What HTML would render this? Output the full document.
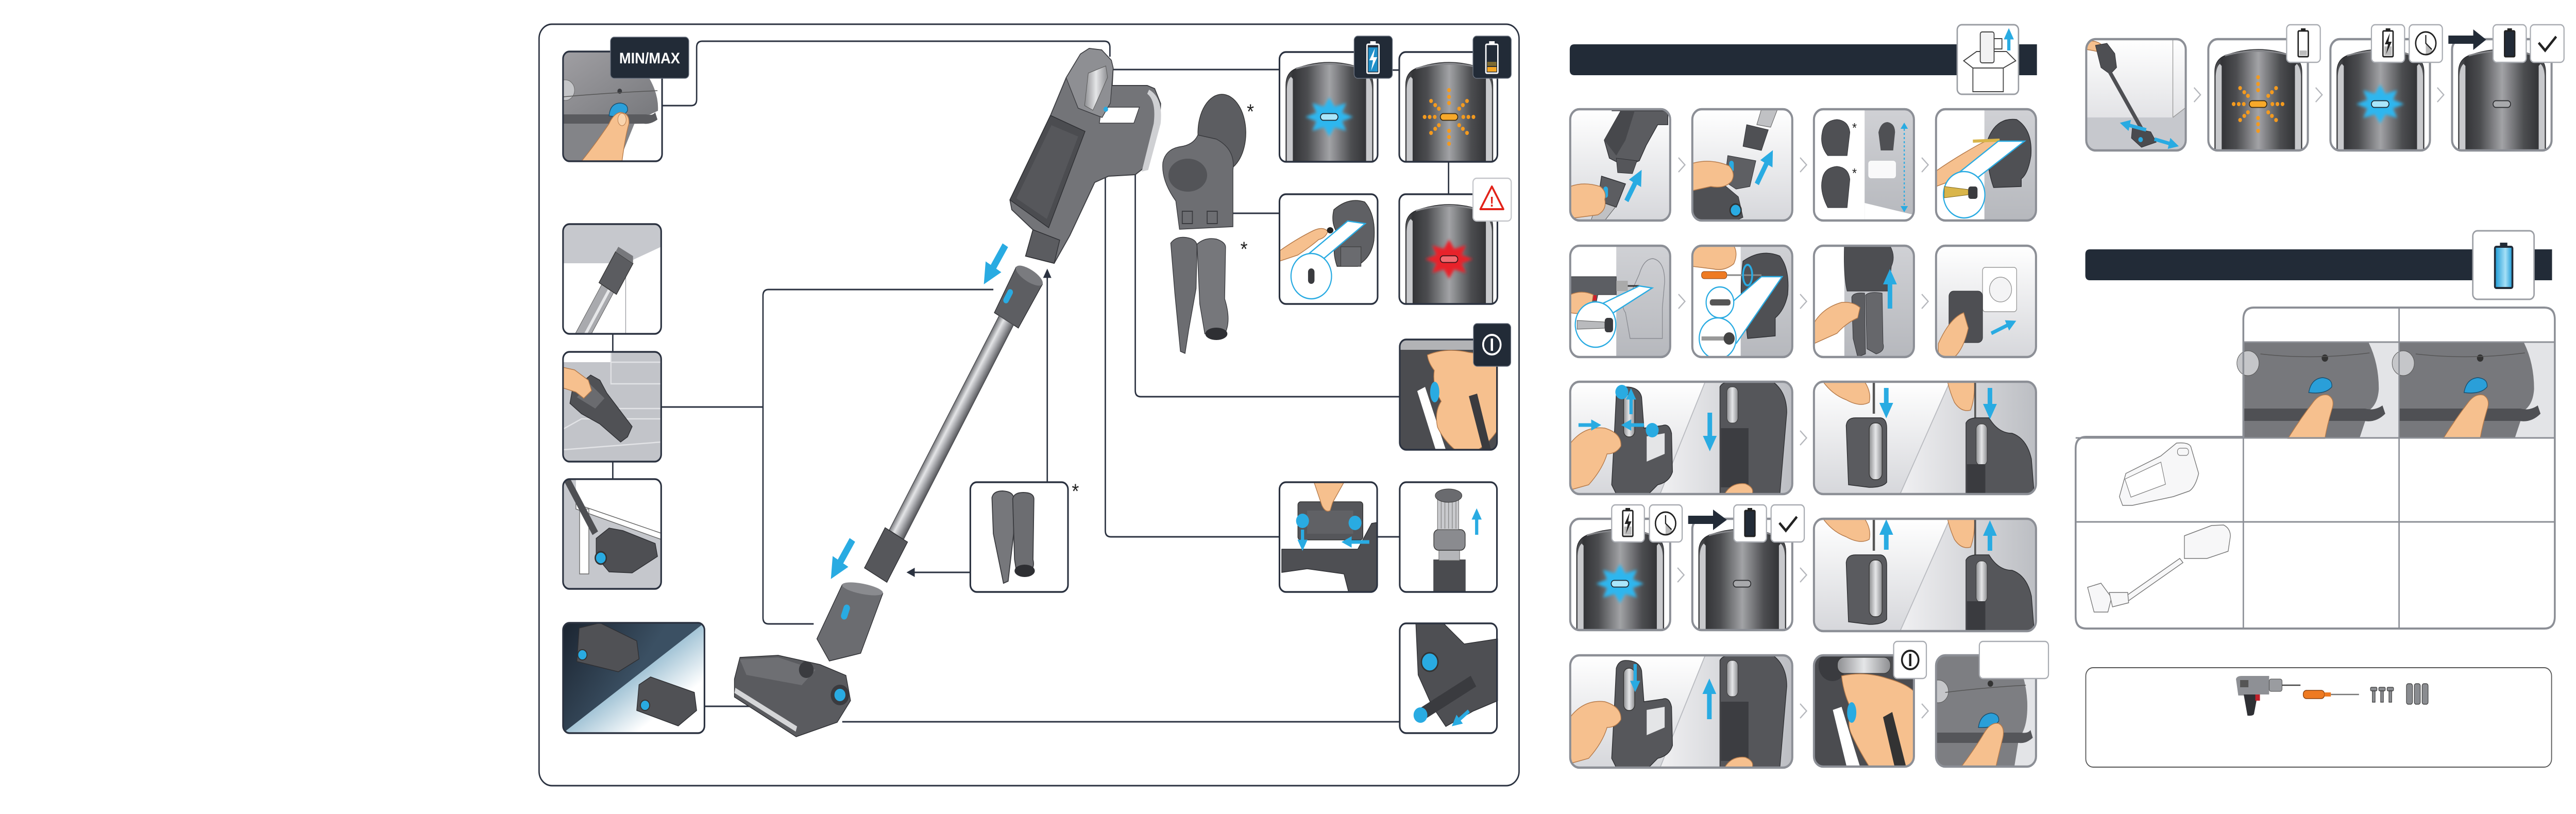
<!DOCTYPE html>
<html><head><meta charset="utf-8">
<style>
html,body{margin:0;padding:0;background:#fff;width:100%;height:100%;overflow:hidden;}
svg{display:block;width:100vw;height:100vh;}
.bd{fill:none;stroke:#2b3240;stroke-width:3.5}
.bg{fill:none;stroke:#8c8f96;stroke-width:4.5}
.cn{fill:none;stroke:#2b3240;stroke-width:3}
.sk{fill:#f6c08e;stroke:#b57a4a;stroke-width:1.5}
.ch{fill:none;stroke:#b5b7bc;stroke-width:2.5}
.ib{fill:#fff;stroke:#a9acb2;stroke-width:2.5}
.nb{fill:#222b37;stroke:#6b7380;stroke-width:1.5}
.ba{stroke:#29abe2;stroke-width:10;fill:none}
.bs{stroke:#29abe2;stroke-width:7;fill:none}
</style></head><body>
<svg viewBox="0 0 5591 1580" preserveAspectRatio="none" xmlns="http://www.w3.org/2000/svg" xmlns:xlink="http://www.w3.org/1999/xlink">
<defs>
<linearGradient id="pbg" x1="0" y1="0" x2="0" y2="1"><stop offset="0" stop-color="#ffffff"/><stop offset="1" stop-color="#d6d7db"/></linearGradient>
<linearGradient id="wall" x1="0" y1="0" x2="0" y2="1"><stop offset="0" stop-color="#d0d1d5"/><stop offset="1" stop-color="#b6b8bd"/></linearGradient>
<linearGradient id="rgt" x1="0" y1="0" x2="1" y2="0"><stop offset="0" stop-color="#f0f0f2"/><stop offset="1" stop-color="#bcbec3"/></linearGradient>
<linearGradient id="gb" x1="0" y1="0" x2="1" y2="0"><stop offset="0" stop-color="#58595c"/><stop offset="0.08" stop-color="#333437"/><stop offset="0.25" stop-color="#4c4d50"/><stop offset="0.5" stop-color="#a2a3a6"/><stop offset="0.75" stop-color="#4c4d50"/><stop offset="0.92" stop-color="#333437"/><stop offset="1" stop-color="#58595c"/></linearGradient>
<linearGradient id="metal" gradientUnits="userSpaceOnUse" x1="2168.6" y1="612.8" x2="2199.8" y2="630.8"><stop offset="0" stop-color="#6f7074"/><stop offset="0.35" stop-color="#e4e5e7"/><stop offset="0.6" stop-color="#b0b1b5"/><stop offset="1" stop-color="#5a5b5f"/></linearGradient>
<linearGradient id="dev" x1="0" y1="0" x2="1" y2="1"><stop offset="0" stop-color="#a09fa3"/><stop offset="1" stop-color="#77787c"/></linearGradient>
<linearGradient id="silv" x1="0" y1="0" x2="1" y2="0"><stop offset="0" stop-color="#8d8e91"/><stop offset="0.5" stop-color="#e5e6e8"/><stop offset="1" stop-color="#8d8e91"/></linearGradient>
<linearGradient id="night" gradientUnits="userSpaceOnUse" x1="0" y1="0" x2="153" y2="107"><stop offset="0" stop-color="#1b2430"/><stop offset="1" stop-color="#3b5063"/></linearGradient>
<linearGradient id="beam" gradientUnits="userSpaceOnUse" x1="153" y1="107" x2="205" y2="182"><stop offset="0" stop-color="#a3c4d6"/><stop offset="1" stop-color="#ffffff"/></linearGradient>
<linearGradient id="bfill" x1="0" y1="0" x2="1" y2="0"><stop offset="0" stop-color="#1b9ad6"/><stop offset="0.6" stop-color="#a6e0f7"/><stop offset="1" stop-color="#1b9ad6"/></linearGradient>
<filter id="blur" x="-40%" y="-40%" width="180%" height="180%"><feGaussianBlur stdDeviation="3"/></filter>
<clipPath id="k213"><rect width="213" height="213" rx="14"/></clipPath>
<clipPath id="k307"><rect width="307" height="214" rx="14"/></clipPath>
<clipPath id="k217"><rect width="217" height="216" rx="20"/></clipPath>
<clipPath id="k482"><rect width="482" height="218" rx="20"/></clipPath>
<marker id="mb" viewBox="0 0 10 10" refX="3" refY="5" markerWidth="30" markerHeight="30" markerUnits="userSpaceOnUse" orient="auto"><path d="M0,0 L10,5 L0,10 z" fill="#29abe2"/></marker>
<marker id="mbl" viewBox="0 0 10 10" refX="3" refY="5" markerWidth="40" markerHeight="40" markerUnits="userSpaceOnUse" orient="auto"><path d="M0,0 L10,5 L0,10 z" fill="#29abe2"/></marker>
<marker id="mbs" viewBox="0 0 10 10" refX="3" refY="5" markerWidth="22" markerHeight="22" markerUnits="userSpaceOnUse" orient="auto"><path d="M0,0 L10,5 L0,10 z" fill="#29abe2"/></marker>
<marker id="md" viewBox="0 0 10 10" refX="3" refY="5" markerWidth="18" markerHeight="18" markerUnits="userSpaceOnUse" orient="auto"><path d="M0,0 L10,5 L0,10 z" fill="#2b3240"/></marker>

<g id="bb">
<rect width="217" height="216" fill="#fff"/>
<path d="M14,216 V64 Q14,40 36,32 Q108,8 181,32 Q203,40 203,64 V216 Z" fill="url(#gb)" stroke="#2a2b2e" stroke-width="1.5"/>
<path d="M16,216 V72 Q17,54 25,48 L29,52 L29,216 Z" fill="#c8c9cc"/>
<path d="M201,216 V72 Q200,54 192,48 L188,52 L188,216 Z" fill="#c8c9cc"/>
<path d="M36,32 Q108,14 181,32" fill="none" stroke="#85868a" stroke-width="3"/>
</g>
<g id="starB">
<polygon points="52,0 27.7,8.4 36.8,26.9 11.5,20.3 0,38 -11.5,20.3 -36.8,26.9 -27.7,8.4 -52,0 -27.7,-8.4 -36.8,-26.9 -11.5,-20.3 0,-38 11.5,-20.3 36.8,-26.9 27.7,-8.4" fill="#2fb6ee" filter="url(#blur)"/>
<rect x="-19" y="-6.5" width="38" height="13" rx="6.5" fill="#a9e6fb" stroke="#1b2631" stroke-width="1.8"/>
</g>
<g id="starR">
<polygon points="52,0 27.7,8.4 36.8,26.9 11.5,20.3 0,38 -11.5,20.3 -36.8,26.9 -27.7,8.4 -52,0 -27.7,-8.4 -36.8,-26.9 -11.5,-20.3 0,-38 11.5,-20.3 36.8,-26.9 27.7,-8.4" fill="#e8202a" filter="url(#blur)"/>
<rect x="-19" y="-6.5" width="38" height="13" rx="6.5" fill="#f26a70" stroke="#3a1014" stroke-width="1.8"/>
</g>
<g id="pillG"><rect x="-19" y="-6.5" width="38" height="13" rx="6.5" fill="#a8a9ac" stroke="#2a2b2e" stroke-width="1.8"/></g>
<g id="burstO" fill="#f39a1f">
<circle cx="31" cy="0" r="4"/><circle cx="42" cy="0" r="4"/><circle cx="53" cy="0" r="4"/>
<circle cx="-31" cy="0" r="4"/><circle cx="-42" cy="0" r="4"/><circle cx="-53" cy="0" r="4"/>
<circle cx="0" cy="27" r="4"/><circle cx="0" cy="39" r="4"/><circle cx="0" cy="52" r="4"/>
<circle cx="0" cy="-27" r="4"/><circle cx="0" cy="-39" r="4"/><circle cx="0" cy="-52" r="4"/>
<circle cx="22" cy="16" r="4"/><circle cx="30" cy="23" r="4"/><circle cx="39" cy="31" r="4"/>
<circle cx="-22" cy="16" r="4"/><circle cx="-30" cy="23" r="4"/><circle cx="-39" cy="31" r="4"/>
<circle cx="22" cy="-16" r="4"/><circle cx="30" cy="-23" r="4"/><circle cx="39" cy="-31" r="4"/>
<circle cx="-22" cy="-16" r="4"/><circle cx="-30" cy="-23" r="4"/><circle cx="-39" cy="-31" r="4"/>
<rect x="-19" y="-6.5" width="38" height="13" rx="6.5" fill="#f7a92a" stroke="#3a2a10" stroke-width="1.8"/>
</g>
<g id="thumbcell">
<rect width="335" height="186" fill="#e3e4e7"/>
<path d="M0,0 H270 Q292,40 292,90 Q290,120 270,132 L250,186 H0 Z" fill="#77787c"/>
<path d="M0,128 H262 Q282,133 300,122 L306,138 Q286,156 260,152 H0 Z" fill="#4f5054"/>
<circle cx="8" cy="40" r="24" fill="#c5c6c9" stroke="#555"/>
<circle cx="175" cy="30" r="7" fill="#333"/>
<path d="M35,22 Q150,34 272,20" stroke="#555" stroke-width="1.5" fill="none"/>
<path d="M140,97 Q145,70 170,68 Q192,70 190,86 Q176,101 140,97 Z" fill="#2a9fd9" stroke="#1a4f6e" stroke-width="1.5"/>
<path d="M95,186 Q120,150 150,115 Q165,98 182,102 Q198,110 190,130 Q180,160 175,186 Z" class="sk"/>
</g>
<g id="dev2">
<path d="M70,85 Q72,70 90,70 H145 Q158,72 158,90 L158,195 Q150,205 120,205 L75,200 Z" fill="#5a5b5f" stroke="#2c2d30" stroke-width="1.5"/>
<rect x="120" y="80" width="28" height="110" rx="12" fill="url(#silv)" stroke="#333" stroke-width="1.5"/>
<path d="M20,0 H110 Q125,20 120,40 Q100,50 70,35 Q40,25 20,0 Z" class="sk"/>
<line x1="130" y1="0" x2="130" y2="62" stroke="#555" stroke-width="5"/>
<path d="M290,0 H348 Q350,30 340,55 Q320,60 305,40 Q295,20 290,0 Z" class="sk"/>
<line x1="350" y1="0" x2="350" y2="85" stroke="#555" stroke-width="4"/>
<path d="M330,80 Q335,70 355,70 L380,70 Q400,100 430,100 Q462,110 472,150 L478,218 L330,218 Z" fill="#55565a" stroke="#2c2d30" stroke-width="1.5"/>
<rect x="352" y="82" width="24" height="80" rx="10" fill="url(#silv)" stroke="#333"/>
<rect x="332" y="160" width="40" height="58" fill="#3a3b3f"/>
</g>
<g id="dev1">
<path d="M100,25 Q105,10 120,10 Q150,10 155,30 L160,90 L200,85 Q215,80 220,100 L222,175 Q215,195 190,200 L170,218 L100,218 L90,200 Q95,120 100,25 Z" fill="#56575b" stroke="#2c2d30" stroke-width="1.5"/>
<rect x="116" y="25" width="24" height="82" rx="11" fill="url(#silv)" stroke="#333" stroke-width="1.5"/>
<path d="M166,106 L205,100 L205,140 L166,155 Z" fill="#e4e5e7"/>
<path d="M0,120 Q30,85 75,90 Q112,100 110,125 Q100,140 80,140 Q70,170 40,200 L0,210 Z" class="sk"/>
<path d="M325,10 Q330,0 350,0 L440,0 Q470,20 470,60 L455,218 L325,218 Z" fill="#55565a" stroke="#2c2d30" stroke-width="1.5"/>
<rect x="327" y="90" width="60" height="115" fill="#3c3d41"/>
<rect x="340" y="10" width="24" height="70" rx="10" fill="url(#silv)" stroke="#333"/>
<path d="M335,218 Q350,195 380,198 Q400,205 395,218 Z" class="sk"/>
</g>
</defs>

<rect width="5591" height="1580" fill="#fff"/>

<!-- ================= MAIN DIAGRAM ================= -->
<rect x="1170" y="47" width="2127" height="1478" rx="28" fill="none" stroke="#2b3240" stroke-width="3"/>

<path class="cn" d="M1437,205 H1500 Q1512,205 1512,193 V92 Q1512,80 1524,80 H2397 Q2409,80 2409,92 V110"/>
<path class="cn" d="M2352,135 H2777"/>
<path class="cn" d="M3022,136 H3037"/>
<path class="cn" d="M2672,414 H2777"/>
<path class="cn" d="M3144,314 V377"/>
<path class="cn" d="M2406,216 H2452 Q2464,216 2464,228 V758 Q2464,770 2476,770 H3038"/>
<path class="cn" d="M2399,342 V1030 Q2399,1042 2411,1042 H2777"/>
<path class="cn" d="M2989,1042 H3038"/>
<path class="cn" d="M1828,1401 H3038"/>
<path class="cn" d="M1435,790 H1656"/>
<path class="cn" d="M2156,562 H1668 Q1656,562 1656,574 V1199 Q1656,1211 1668,1211 H1766"/>
<path class="cn" d="M1330,648 V683 M1330,896 V930"/>
<path class="cn" d="M1529,1371 H1635"/>
<line x1="2106" y1="1111" x2="1980" y2="1111" class="cn" marker-end="url(#md)"/>
<line x1="2273" y1="936" x2="2273" y2="534" class="cn" marker-end="url(#md)"/>

<path d="M2345,105 L2364,94 L2391,97 L2412,117 L2416,132 L2414,166 L2490,166 L2506,172 L2519,201 L2517,239 L2502,289 L2487,323 L2464,339 L2406,342 L2376,354 L2322,457 L2288,511 L2226,497 L2242,446 L2196,407 L2192,388 L2280,224 L2314,151 Z" fill="#737478" stroke="#3c3d41" stroke-width="2"/>
<path d="M2494,174 Q2525,190 2519,240 L2492,330 L2478,333 L2504,240 Q2510,196 2490,182 Z" fill="#cfd0d3"/>
<path d="M2391,208 L2473,208 L2461,239 L2386,239 Z" fill="#fff" stroke="#3c3d41" stroke-width="1.5"/>
<path d="M2192,388 L2280,224 L2355,255 L2276,442 Z" fill="#4b4c50" stroke="#2e2f33" stroke-width="1.5"/>
<path d="M2206,385 L2282,243 L2340,265 L2272,425 Z" fill="#56575b"/>
<path d="M2345,105 L2364,94 L2391,97 L2412,117 L2416,132 L2410,200 L2392,228 L2340,210 L2314,151 Z" fill="#8e8f93" stroke="#3c3d41" stroke-width="1.5"/>
<path d="M2362,142 L2400,128 L2404,150 L2372,214 L2354,205 Z" fill="url(#silv)" stroke="#555" stroke-width="1"/>
<circle cx="2400" cy="212" r="5" fill="#29abe2"/>
<path d="M2226,497 L2242,446 L2300,466 L2288,511 Z" fill="#5b5c60" stroke="#2e2f33" stroke-width="1.5"/>
<polygon points="2262.6,551.4 2205.4,518.6 2158.2,606.9 2210.2,636.7" fill="#5d5e62" stroke="#2e2f33" stroke-width="1.5"/>
<ellipse cx="2234" cy="535" rx="33" ry="12" transform="rotate(30 2234 535)" fill="#7a7b7f"/>
<rect x="2182" y="560" width="12" height="30" rx="6" transform="rotate(30 2188 575)" fill="#29abe2"/>
<polygon points="2199.8,630.8 2168.6,612.8 1929.8,1029.2 1961,1047.2" fill="url(#metal)" stroke="#4a4b4f" stroke-width="1.5"/>
<polygon points="1969.7,1052.1 1921.1,1024.3 1876.3,1102.4 1924.9,1130.2" fill="#56575b" stroke="#2e2f33" stroke-width="1.5"/>
<polygon points="1828,1135 1916,1152 1868,1268 1800,1283 1773,1240" fill="#6b6c70" stroke="#2e2f33" stroke-width="1.5"/>
<ellipse cx="1872" cy="1143" rx="45" ry="10" transform="rotate(10 1872 1143)" fill="#8a8b8f"/>
<rect x="1828" y="1173" width="14" height="30" rx="7" transform="rotate(20 1835 1188)" fill="#29abe2"/>
<path d="M1594,1318 L1606,1276 L1689,1272 L1780,1290 L1836,1311 L1846,1360 L1817,1402 L1728,1430 L1594,1353 Z" fill="#5a5b5f" stroke="#2e2f33" stroke-width="1.5"/>
<path d="M1606,1280 L1689,1276 L1770,1300 L1740,1330 L1620,1310 Z" fill="#6e6f73"/>
<path d="M1596,1335 L1730,1410 L1727,1420 L1594,1345 Z" fill="#d5d6d8"/>
<circle cx="1823" cy="1349" r="20" fill="#3a3b3f"/><circle cx="1823" cy="1349" r="12" fill="#29abe2"/>
<circle cx="1750" cy="1300" r="16" fill="#3a3b3f"/>
<line x1="2182" y1="476" x2="2150" y2="528" stroke="#29abe2" stroke-width="14" marker-end="url(#mbl)"/>
<line x1="1850" y1="1048" x2="1818" y2="1100" stroke="#29abe2" stroke-width="14" marker-end="url(#mbl)"/>

<ellipse cx="2652" cy="258" rx="52" ry="75" fill="#5c5d61" stroke="#333" stroke-width="1.5"/>
<path d="M2524,315 Q2530,290 2560,285 Q2590,282 2600,262 L2640,270 Q2682,290 2676,330 L2676,440 L2560,445 L2552,390 Q2520,350 2524,315 Z" fill="#6d6e72" stroke="#38393d" stroke-width="1.5"/>
<ellipse cx="2578" cy="340" rx="42" ry="32" fill="#535458"/>
<rect x="2566" y="410" width="22" height="24" fill="none" stroke="#3a3b3f" stroke-width="2"/>
<rect x="2620" y="410" width="22" height="24" fill="none" stroke="#3a3b3f" stroke-width="2"/>
<path d="M2541,472 Q2552,458 2575,461 Q2598,464 2598,478 L2596,560 L2580,640 L2572,686 L2562,682 L2550,570 Z" fill="#6c6d71" stroke="#38393d" stroke-width="1.5"/>
<path d="M2598,474 Q2615,460 2640,464 Q2660,470 2660,480 L2658,580 Q2672,620 2660,645 L2615,648 L2604,590 Z" fill="#76777b" stroke="#38393d" stroke-width="1.5"/>
<ellipse cx="2640" cy="648" rx="24" ry="12" fill="#2e2f33"/>
<text x="2714" y="230" font-family="Liberation Sans, sans-serif" font-size="40" text-anchor="middle" fill="#222">*</text>
<text x="2700" y="497" font-family="Liberation Sans, sans-serif" font-size="40" text-anchor="middle" fill="#222">*</text>
<text x="2334" y="967" font-family="Liberation Sans, sans-serif" font-size="40" text-anchor="middle" fill="#222">*</text>

<g transform="translate(1222,100)"><g clip-path="url(#k213)">
<rect width="215" height="213" fill="#fff"/>
<path d="M0,0 H185 L188,53 Q208,85 206,115 L180,126 L0,126 Z" fill="url(#dev)"/>
<path d="M0,122 L180,122 Q195,125 200,118 L205,132 Q190,142 175,140 L0,142 Z" fill="#5a5b5f"/>
<path d="M0,140 L155,140 L122,213 L0,213 Z" fill="#838488"/>
<circle cx="5" cy="75" r="20" fill="#c4c5c8" stroke="#666"/>
<circle cx="123" cy="77" r="5" fill="#3a3b3f"/>
<path d="M0,88 Q100,80 205,76" stroke="#555" stroke-width="1.5" fill="none"/>
<path d="M100,125 Q102,100 125,100 Q142,102 140,115 Q130,130 100,125 Z" fill="#2b9fd9" stroke="#1a4f6e" stroke-width="1.5"/>
<path d="M40,213 Q70,180 100,140 Q110,120 125,118 Q145,120 143,140 Q135,165 128,213 Z" class="sk"/>
<ellipse cx="128" cy="132" rx="9" ry="12" fill="#f9d4ad" stroke="#b57a4a"/>
</g><rect width="215" height="213" rx="14" class="bd"/></g>
<rect x="1325" y="72" width="170" height="80" rx="8" class="nb"/>
<text x="1410" y="123" font-family="Liberation Sans, sans-serif" font-weight="bold" font-size="30" text-anchor="middle" fill="#fff" textLength="132" lengthAdjust="spacingAndGlyphs">MIN/MAX</text>

<g transform="translate(1222,435)"><g clip-path="url(#k213)">
<rect width="213" height="213" fill="#fff"/>
<polygon points="0,0 213,0 213,44 136,76 0,76" fill="#c6c8cd"/>
<line x1="136" y1="76" x2="136" y2="213" stroke="#9a9ca2" stroke-width="1.5"/>
<polygon points="109.9,132.7 84.1,117.3 22.1,220.3 47.9,235.7" fill="#a9aaae" stroke="#555" stroke-width="1"/>
<line x1="100" y1="128" x2="40" y2="228" stroke="#e6e7e9" stroke-width="6"/>
<polygon points="151.9,76.4 114.1,53.6 78.1,113.6 115.9,136.4" fill="#5b5c60" stroke="#333" stroke-width="1.5"/>
<polygon points="151.9,76.4 114.1,53.6 120,44 152,62" fill="#77787c"/>
</g><rect width="213" height="213" rx="14" class="bd"/></g>

<g transform="translate(1222,683)"><g clip-path="url(#k213)">
<rect width="213" height="213" fill="#c2c4c9"/>
<polygon points="0,0 104,0 104,20 0,20" fill="#fff"/>
<path d="M104,0 V20 H213 M104,20 V62 H213 M60,62 V110 H213 M0,150 L40,130 H213 M0,190 L213,175" stroke="#e2e3e6" stroke-width="2.5" fill="none"/>
<polygon points="20,75 60,45 80,55 95,80 150,145 140,165 125,175 80,140 40,120 15,100" fill="#505155" stroke="#2e2f33" stroke-width="1.5"/>
<polygon points="30,88 58,62 90,90 70,110" fill="#6a6b6f"/>
<path d="M0,30 L25,35 L55,55 L62,75 L45,90 L28,78 L0,70 Z" class="sk"/>
</g><rect width="213" height="213" rx="14" class="bd"/></g>

<g transform="translate(1222,930)"><g clip-path="url(#k213)">
<rect width="213" height="213" fill="#c5c7cc"/>
<polygon points="28,0 213,0 213,105 28,48" fill="#fff"/>
<polygon points="28,48 213,105 213,117 28,58" fill="#fff" stroke="#666" stroke-width="1.5"/>
<rect x="36" y="58" width="20" height="126" fill="#fff" stroke="#666" stroke-width="1.5"/>
<line x1="8" y1="0" x2="70" y2="105" stroke="#4e4f53" stroke-width="14"/>
<polygon points="72,115 100,95 130,100 200,125 205,150 150,182 100,180 72,150" fill="#4e4f53" stroke="#2e2f33" stroke-width="1.5"/>
<circle cx="82" cy="153" r="12" fill="#29abe2" stroke="#333" stroke-width="3"/>
</g><rect width="213" height="213" rx="14" class="bd"/></g>

<g transform="translate(1222,1209)"><g clip-path="url(#k307)">
<rect width="307" height="214" fill="#fff"/>
<polygon points="0,0 307,0 0,214" fill="url(#night)"/>
<polygon points="307,0 0,214 307,214" fill="url(#beam)"/>
<polygon points="35,10 80,0 160,35 165,70 120,95 30,75" fill="#505155" stroke="#2e2f33" stroke-width="1.5"/>
<circle cx="42" cy="62" r="10" fill="#29abe2" stroke="#333" stroke-width="2"/>
<polygon points="165,120 190,105 285,135 290,170 250,200 160,170" fill="#505155" stroke="#2e2f33" stroke-width="1.5"/>
<circle cx="178" cy="160" r="10" fill="#29abe2" stroke="#333" stroke-width="2"/>
</g><rect width="307" height="214" rx="14" class="bd"/></g>

<g transform="translate(2106,936)"><g clip-path="url(#k213)">
<rect width="213" height="213" fill="#fff"/>
<path d="M47,30 Q50,17 70,17 Q92,18 94,30 L94,100 L82,192 L72,196 L50,100 Z" fill="#76777b" stroke="#3a3b3f" stroke-width="2"/>
<path d="M92,32 Q95,20 115,20 Q137,20 138,32 L136,150 Q140,165 130,172 L100,172 L96,150 Z" fill="#6c6d71" stroke="#3a3b3f" stroke-width="2"/>
<ellipse cx="118" cy="172" rx="22" ry="12" fill="#2e2f33"/>
</g><rect width="212" height="213" rx="14" class="bd"/></g>

<g transform="translate(2777,101)"><g clip-path="url(#k213)"><use xlink:href="#bb"/><use xlink:href="#starB" transform="translate(108,126)"/></g><rect width="213" height="213" rx="14" class="bd"/></g>
<rect x="2939" y="70" width="83" height="82" rx="8" class="nb"/>
<rect x="2967" y="86" width="26" height="56" rx="2" fill="none" stroke="#fff" stroke-width="3"/>
<rect x="2974" y="80" width="12" height="6" fill="#fff"/>
<rect x="2970" y="92" width="20" height="47" fill="#1f8fc9"/>
<polygon points="2984,94 2972,117 2980,117 2976,137 2989,111 2981,111" fill="#fff"/>

<g transform="translate(3037,101)"><g clip-path="url(#k213)"><use xlink:href="#bb"/><use xlink:href="#burstO" transform="translate(108,126)"/></g><rect width="213" height="213" rx="14" class="bd"/></g>
<rect x="3197" y="70" width="83" height="82" rx="8" class="nb"/>
<rect x="3225" y="86" width="26" height="56" rx="2" fill="none" stroke="#fff" stroke-width="3"/>
<rect x="3232" y="80" width="12" height="6" fill="#fff"/>
<rect x="3228" y="120" width="20" height="8" fill="#7d6a30"/>
<rect x="3228" y="130" width="20" height="9" fill="#f5a623"/>

<g transform="translate(2777,377)"><g clip-path="url(#k213)">
<rect width="213" height="213" fill="#fff"/>
<path d="M118,30 Q150,5 185,15 Q210,40 205,90 Q200,120 175,135 L170,140 L125,140 Q110,100 130,80 Q110,60 118,30 Z" fill="#5f6064" stroke="#333" stroke-width="1.5"/>
<rect x="133" y="102" width="44" height="38" fill="#6a6b6f" stroke="#333"/>
<path d="M0,110 Q40,85 75,70 Q95,62 105,72 Q100,85 85,88 Q70,100 40,118 L0,130 Z" class="sk"/>
<ellipse cx="110" cy="70" rx="7" ry="6" fill="#222"/>
<path d="M55,122 L148,52 L186,57 L92,128" fill="#fff" stroke="#29abe2" stroke-width="2.5"/>
<circle cx="69" cy="159" r="44" fill="#fff" stroke="#29abe2" stroke-width="2.5"/>
<rect x="62" y="144" width="14" height="30" rx="7" fill="#3a3b3f"/>
</g><rect width="213" height="213" rx="14" class="bd"/></g>

<g transform="translate(3037,377)"><g clip-path="url(#k213)"><use xlink:href="#bb"/><use xlink:href="#starR" transform="translate(108,126)"/></g><rect width="213" height="213" rx="14" class="bd"/></g>
<rect x="3197" y="346" width="83" height="83" rx="8" fill="#fff" stroke="#c4c6ca" stroke-width="2.5"/>
<polygon points="3238,362 3263,406 3213,406" fill="none" stroke="#e2231a" stroke-width="4" stroke-linejoin="round"/>
<text x="3238" y="401" font-family="Liberation Sans, sans-serif" font-weight="bold" font-size="28" text-anchor="middle" fill="#e2231a">!</text>

<g transform="translate(3038,659)"><g clip-path="url(#k213)">
<rect width="213" height="214" fill="#4b4c50"/>
<rect x="0" y="0" width="213" height="20" fill="#b2b3b6"/>
<polygon points="38,100 55,92 100,214 78,214" fill="#fff"/>
<path d="M60,30 Q100,15 150,25 Q200,30 213,45 L213,175 Q195,200 170,214 L120,214 Q95,195 82,170 Q75,140 90,120 Q70,90 75,60 Q62,45 60,30 Z" class="sk"/>
<polygon points="150,110 180,214 198,214 168,105" fill="#3a3b3f"/>
<ellipse cx="76" cy="102" rx="10" ry="20" fill="#29abe2"/>
</g><rect width="211" height="214" rx="14" class="bd"/></g>
<rect x="3198" y="628" width="81" height="83" rx="8" class="nb"/>
<circle cx="3238" cy="669" r="19" fill="none" stroke="#fff" stroke-width="4"/>
<line x1="3238" y1="657" x2="3238" y2="681" stroke="#fff" stroke-width="5"/>

<g transform="translate(2777,936)"><g clip-path="url(#k213)">
<rect width="213" height="213" fill="#fff"/>
<path d="M5,130 L170,130 L200,80 L213,78 L213,213 L150,213 L140,178 L60,168 L5,175 Z" fill="#4e4f53" stroke="#2e2f33" stroke-width="1.5"/>
<rect x="40" y="38" width="141" height="74" rx="6" fill="#55565a" stroke="#333" stroke-width="1.5"/>
<rect x="60" y="55" width="100" height="45" fill="#606165"/>
<path d="M75,0 L92,45 Q100,60 110,55 L115,40 L140,0 Z" class="sk"/>
<circle cx="50" cy="75" r="14" fill="#29abe2"/><circle cx="164" cy="79" r="14" fill="#29abe2"/>
<line x1="50" y1="92" x2="50" y2="118" class="bs" marker-end="url(#mbs)"/>
<line x1="195" y1="116" x2="150" y2="116" class="bs" marker-end="url(#mbs)"/>
</g><rect width="212" height="213" rx="14" class="bd"/></g>

<g transform="translate(3038,936)"><g clip-path="url(#k213)">
<rect width="213" height="213" fill="#fff"/>
<rect x="73" y="150" width="70" height="63" fill="#4a4b4f"/>
<rect x="85" y="130" width="45" height="22" fill="#b5b6b9" stroke="#555"/>
<rect x="74" y="92" width="68" height="40" rx="10" fill="#8a8b8f" stroke="#333" stroke-width="1.5"/>
<rect x="82" y="30" width="46" height="62" fill="#c9cacd" stroke="#555"/>
<path d="M90,32 V90 M98,32 V90 M106,32 V90 M114,32 V90 M122,32 V90" stroke="#888" stroke-width="1.5"/>
<ellipse cx="106" cy="26" rx="29" ry="13" fill="#6a6b6f" stroke="#333"/>
<line x1="167" y1="102" x2="167" y2="66" class="bs" marker-end="url(#mbs)"/>
</g><rect width="211" height="213" rx="14" class="bd"/></g>

<g transform="translate(3038,1210)"><g clip-path="url(#k213)">
<rect width="213" height="213" fill="#fff"/>
<path d="M35,0 L95,0 L140,40 L213,30 L213,150 L160,170 L100,200 L70,160 L40,100 Z" fill="#4e4f53" stroke="#2e2f33" stroke-width="1.5"/>
<circle cx="65" cy="75" r="18" fill="#29abe2" stroke="#333" stroke-width="3"/>
<line x1="48" y1="176" x2="160" y2="112" stroke="#3a3b3f" stroke-width="24"/>
<circle cx="45" cy="178" r="15" fill="#29abe2"/>
<line x1="150" y1="170" x2="125" y2="190" class="bs" marker-end="url(#mbs)"/>
</g><rect width="211" height="213" rx="14" class="bd"/></g>

<!-- ================= MIDDLE SECTION ================= -->
<path d="M3417,86 H4421 V146 H3417 Q3407,146 3407,136 V96 Q3407,86 3417,86 Z" fill="#222b37"/>
<rect x="4248" y="48" width="133" height="135" rx="10" fill="#fff" stroke="#9a9da3" stroke-width="3"/>
<path d="M4262,118 L4290,100 L4355,100 L4375,118 L4348,132 V178 H4282 V132 Z M4282,132 H4348" fill="none" stroke="#444" stroke-width="2"/>
<rect x="4298" y="62" width="30" height="60" rx="4" fill="#f2f2f3" stroke="#444" stroke-width="2"/>
<path d="M4328,75 H4345 V95 H4328" fill="none" stroke="#444" stroke-width="2"/>
<line x1="4360" y1="98" x2="4360" y2="70" class="bs" marker-end="url(#mbs)"/>

<g transform="translate(3408,212)"><g clip-path="url(#k217)">
<rect width="217" height="216" fill="url(#pbg)"/>
<polygon points="90,3 212,3 212,30 190,30 165,70 150,100 120,111 85,95 74,60 110,3" fill="#5b5c60" stroke="#2e2f33" stroke-width="1.5"/>
<polygon points="74,60 110,3 140,3 120,60 100,90" fill="#47484c"/>
<polygon points="100,95 145,100 135,125 103,123" fill="#55565a" stroke="#2e2f33"/>
<polygon points="68,130 120,145 100,190 60,178" fill="#5c5d61" stroke="#2e2f33" stroke-width="1.5"/>
<rect x="72" y="150" width="10" height="22" rx="5" fill="#29abe2"/>
<polygon points="60,178 98,190 75,216 45,216" fill="#c0c1c4" stroke="#555"/>
<path d="M0,150 Q30,140 65,150 Q80,160 75,175 Q80,195 60,205 L0,212 Z" class="sk"/>
<line x1="122" y1="178" x2="145" y2="136" class="ba" marker-end="url(#mb)"/>
</g><rect width="217" height="216" rx="20" class="bg"/></g>

<g transform="translate(3673,212)"><g clip-path="url(#k217)">
<rect width="217" height="216" fill="url(#pbg)"/>
<polygon points="150,0 185,0 170,35 140,30" fill="#c0c1c4" stroke="#555"/>
<polygon points="118,30 165,40 150,80 110,72" fill="#4f5054" stroke="#2e2f33"/>
<polygon points="77,90 138,100 125,150 95,155 70,140" fill="#5e5f63" stroke="#2e2f33"/>
<rect x="80" y="100" width="10" height="22" rx="5" fill="#29abe2"/>
<polygon points="0,145 60,140 100,170 110,210 95,216 0,216" fill="#4f5054" stroke="#2e2f33"/>
<circle cx="94" cy="196" r="12" fill="#29abe2" stroke="#333" stroke-width="3"/>
<path d="M0,105 Q40,95 80,110 Q95,125 85,140 Q70,155 40,150 L0,158 Z" class="sk"/>
<line x1="140" y1="145" x2="165" y2="98" class="ba" marker-end="url(#mb)"/>
</g><rect width="217" height="216" rx="20" class="bg"/></g>

<g transform="translate(3937,212)"><g clip-path="url(#k217)">
<rect width="217" height="216" fill="#fff"/>
<rect x="110" y="0" width="107" height="216" fill="url(#wall)"/>
<polygon points="110,182 217,205 217,216 110,216" fill="#fff"/>
<path d="M18,45 Q22,22 50,20 Q75,22 78,45 L72,90 L30,90 Q12,70 18,45 Z" fill="#4f5054" stroke="#2e2f33"/>
<path d="M18,136 Q22,113 50,111 Q75,113 78,136 L72,191 L30,191 Q12,160 18,136 Z" fill="#4f5054" stroke="#2e2f33"/>
<path d="M140,45 Q145,25 160,25 Q176,28 176,45 L172,80 L145,80 Z" fill="#4f5054"/>
<rect x="118" y="100" width="60" height="34" rx="6" fill="#fff" opacity="0.9"/>
<line x1="196" y1="30" x2="196" y2="196" stroke="#29abe2" stroke-width="2.5" stroke-dasharray="4 4"/>
<polygon points="188,38 196,26 204,38" fill="#29abe2"/><polygon points="188,188 196,200 204,188" fill="#29abe2"/>
<text x="88" y="45" font-family="Liberation Sans, sans-serif" font-size="26" text-anchor="middle" fill="#222">*</text>
<text x="88" y="133" font-family="Liberation Sans, sans-serif" font-size="26" text-anchor="middle" fill="#222">*</text>
</g><rect width="217" height="216" rx="20" class="bg"/></g>

<g transform="translate(4202,212)"><g clip-path="url(#k217)">
<rect width="217" height="216" fill="#fff"/>
<rect x="105" y="0" width="112" height="216" fill="url(#wall)"/>
<path d="M112,60 Q130,15 175,20 Q210,40 206,90 Q200,125 185,135 L185,150 L125,152 Q108,110 112,60 Z" fill="#4f5054" stroke="#2e2f33" stroke-width="1.5"/>
<path d="M0,120 Q40,95 90,70 Q120,55 135,60 L138,70 Q120,85 95,95 Q60,115 30,140 L0,150 Z" class="sk"/>
<line x1="80" y1="62" x2="138" y2="60" stroke="#d9b54a" stroke-width="6"/>
<path d="M40,130 L135,62 L192,62 L80,140" fill="#fff" stroke="#29abe2" stroke-width="2.5"/>
<circle cx="61" cy="166" r="45" fill="#fff" stroke="#29abe2" stroke-width="2.5"/>
<polygon points="18,150 70,156 70,166 18,172" fill="#d9b54a" stroke="#7a6520"/>
<rect x="70" y="150" width="20" height="24" rx="5" fill="#3a3b3f"/>
</g><rect width="217" height="216" rx="20" class="bg"/></g>

<g transform="translate(3408,477)"><g clip-path="url(#k217)">
<rect width="217" height="216" fill="#fff"/>
<rect x="100" y="0" width="117" height="216" fill="url(#wall)"/>
<path d="M150,55 Q160,25 180,25 Q205,30 205,70 L200,120 L200,180 L130,180 L120,130 Q105,110 130,95 Z" fill="none" stroke="#8a8c92" stroke-width="1.5"/>
<path d="M0,60 H100 V95 H60 L50,140 Q45,150 30,148 L20,100 H0 Z" fill="#5c5e63" stroke="#2e2f33"/>
<rect x="100" y="68" width="25" height="20" fill="#aaa"/>
<line x1="125" y1="78" x2="150" y2="78" stroke="#333" stroke-width="3"/>
<rect x="45" y="96" width="12" height="10" fill="#d0202a"/>
<path d="M0,95 Q25,85 50,95 L45,125 Q30,135 0,130 Z" class="sk"/>
<path d="M40,125 L150,78 L178,82 L85,135" fill="#fff" stroke="#29abe2" stroke-width="2.5"/>
<circle cx="55" cy="153" r="44" fill="#fff" stroke="#29abe2" stroke-width="2.5"/>
<polygon points="15,145 75,148 75,160 15,162" fill="#b9babd" stroke="#555"/>
<rect x="75" y="140" width="18" height="28" rx="6" fill="#3a3b3f"/>
</g><rect width="217" height="216" rx="20" class="bg"/></g>

<g transform="translate(3673,477)"><g clip-path="url(#k217)">
<rect width="217" height="216" fill="#fff"/>
<rect x="105" y="0" width="112" height="216" fill="url(#wall)"/>
<path d="M110,30 Q150,5 190,20 Q212,45 207,95 Q200,125 180,140 L180,175 L120,180 L115,140 Q100,110 110,30 Z" fill="#4f5054" stroke="#2e2f33" stroke-width="1.5"/>
<path d="M0,0 H90 Q100,15 90,35 Q70,50 45,45 L0,40 Z" class="sk"/>
<rect x="20" y="50" width="55" height="14" rx="6" fill="#ee7a22" stroke="#8a4210"/>
<line x1="75" y1="57" x2="150" y2="57" stroke="#888" stroke-width="3"/>
<ellipse cx="120" cy="57" rx="10" ry="20" fill="none" stroke="#29abe2" stroke-width="4"/>
<path d="M60,130 L150,60 L195,60 L95,190" fill="#fff" stroke="#29abe2" stroke-width="2.5"/>
<circle cx="60" cy="110" r="30" fill="#fff" stroke="#29abe2" stroke-width="2.5"/>
<circle cx="55" cy="180" r="40" fill="#fff" stroke="#29abe2" stroke-width="2.5"/>
<rect x="38" y="104" width="45" height="12" rx="5" fill="#555"/>
<rect x="20" y="176" width="55" height="8" fill="#999"/><circle cx="80" cy="180" r="12" fill="#444"/>
</g><rect width="217" height="216" rx="20" class="bg"/></g>

<g transform="translate(3937,477)"><g clip-path="url(#k217)">
<rect width="217" height="216" fill="#fff"/>
<rect x="66" y="0" width="151" height="216" fill="url(#wall)"/>
<path d="M66,0 H165 Q178,20 168,40 L162,88 L72,88 Q64,60 66,0 Z" fill="#4d4e52" stroke="#2e2f33"/>
<path d="M82,100 Q85,90 110,92 L112,210 L95,216 L85,180 Z" fill="#5c5d61" stroke="#2e2f33"/>
<path d="M112,96 Q120,88 148,92 L150,190 Q155,205 135,210 L115,200 Z" fill="#66676b" stroke="#2e2f33"/>
<path d="M0,150 Q20,120 60,110 Q85,108 100,120 L95,140 Q70,150 50,170 L0,190 Z" class="sk"/>
<line x1="165" y1="122" x2="165" y2="66" class="ba" marker-end="url(#mb)"/>
</g><rect width="217" height="216" rx="20" class="bg"/></g>

<g transform="translate(4202,477)"><g clip-path="url(#k217)">
<rect width="217" height="216" fill="url(#pbg)"/>
<rect x="101" y="42" width="74" height="86" rx="6" fill="#fff" stroke="#999" stroke-width="1.5"/>
<circle cx="140" cy="85" r="24" fill="#f4f4f5" stroke="#999" stroke-width="1.5"/>
<rect x="28" y="88" width="73" height="100" rx="10" fill="#4e4f53" stroke="#2e2f33"/>
<path d="M5,190 Q30,140 60,130 L70,160 Q60,200 40,216 L5,216 Z" class="sk"/>
<line x1="120" y1="170" x2="160" y2="152" class="bs" marker-end="url(#mbs)"/>
</g><rect width="217" height="216" rx="20" class="bg"/></g>

<g transform="translate(3408,741)"><g clip-path="url(#k482)">
<rect width="482" height="218" fill="url(#pbg)"/>
<polygon points="293,0 482,0 482,218 195,218" fill="url(#rgt)"/>
<line x1="293" y1="0" x2="195" y2="218" stroke="#b9bbc0" stroke-width="2"/>
<use xlink:href="#dev1"/>
<circle cx="112" cy="20" r="14" fill="#29abe2"/><circle cx="178" cy="94" r="14" fill="#29abe2"/>
<line x1="132" y1="63" x2="132" y2="28" class="bs" marker-end="url(#mbs)"/>
<line x1="18" y1="84" x2="52" y2="84" class="bs" marker-end="url(#mbs)"/>
<line x1="160" y1="84" x2="126" y2="84" class="bs" marker-end="url(#mbs)"/>
<line x1="303" y1="60" x2="303" y2="114" class="ba" marker-end="url(#mb)"/>
</g><rect width="482" height="218" rx="20" class="bg"/></g>

<g transform="translate(3937,741)"><g clip-path="url(#k482)">
<rect width="482" height="218" fill="url(#pbg)"/>
<polygon points="295,0 482,0 482,218 187,218" fill="url(#rgt)"/>
<line x1="295" y1="0" x2="187" y2="218" stroke="#b9bbc0" stroke-width="2"/>
<use xlink:href="#dev2"/>
<line x1="157" y1="12" x2="157" y2="50" class="ba" marker-end="url(#mb)"/>
<line x1="382" y1="12" x2="382" y2="52" class="ba" marker-end="url(#mb)"/>
</g><rect width="482" height="218" rx="20" class="bg"/></g>

<g transform="translate(3408,1007)"><g clip-path="url(#k217)"><use xlink:href="#bb"/><use xlink:href="#starB" transform="translate(108,126)"/></g><rect width="217" height="216" rx="20" class="bg"/></g>
<g transform="translate(3673,1007)"><g clip-path="url(#k217)"><use xlink:href="#bb"/><use xlink:href="#pillG" transform="translate(108,126)"/></g><rect width="217" height="216" rx="20" class="bg"/></g>
<g transform="translate(3937,1007)"><g clip-path="url(#k482)">
<rect width="482" height="218" fill="url(#pbg)"/>
<polygon points="295,0 482,0 482,218 187,218" fill="url(#rgt)"/>
<line x1="295" y1="0" x2="187" y2="218" stroke="#b9bbc0" stroke-width="2"/>
<use xlink:href="#dev2"/>
<line x1="157" y1="60" x2="157" y2="22" class="ba" marker-end="url(#mb)"/>
<line x1="382" y1="62" x2="382" y2="24" class="ba" marker-end="url(#mb)"/>
</g><rect width="482" height="218" rx="20" class="bg"/></g>
<rect x="3498" y="980" width="71" height="72" rx="8" class="ib"/>
<rect x="3522" y="991" width="22" height="50" rx="2" fill="none" stroke="#222" stroke-width="3"/>
<rect x="3528" y="986" width="10" height="5" fill="#222"/>
<rect x="3525" y="1022" width="16" height="16" fill="#bbb"/>
<polygon points="3537,995 3526,1017 3533,1017 3529,1036 3541,1012 3534,1012" fill="#222"/>
<rect x="3580" y="980" width="71" height="72" rx="8" class="ib"/>
<path d="M3615,1016 L3630,1031 A22,22 0 0 1 3615,1038 Z" fill="#bbb"/>
<circle cx="3615" cy="1016" r="22" fill="none" stroke="#222" stroke-width="3"/>
<path d="M3615,1000 V1016 L3628,1028" fill="none" stroke="#222" stroke-width="2.5"/>
<rect x="3664" y="1001" width="56" height="16" fill="#222b37"/>
<polygon points="3718,989 3748,1009 3718,1029" fill="#222b37"/>
<rect x="3763" y="980" width="71" height="72" rx="8" class="ib"/>
<rect x="3787" y="991" width="22" height="50" rx="2" fill="#222b37" stroke="#222" stroke-width="3"/>
<rect x="3793" y="986" width="10" height="5" fill="#222"/>
<rect x="3844" y="980" width="72" height="72" rx="8" class="ib"/>
<polyline points="3862,1015 3876,1030 3900,1003" fill="none" stroke="#222" stroke-width="5"/>

<g transform="translate(3408,1272)"><g clip-path="url(#k482)">
<rect width="482" height="218" fill="url(#pbg)"/>
<polygon points="293,0 482,0 482,218 195,218" fill="url(#rgt)"/>
<line x1="293" y1="0" x2="195" y2="218" stroke="#b9bbc0" stroke-width="2"/>
<use xlink:href="#dev1"/>
<line x1="141" y1="17" x2="141" y2="56" class="bs" marker-end="url(#mbs)"/>
<line x1="302" y1="124" x2="302" y2="66" class="ba" marker-end="url(#mb)"/>
</g><rect width="482" height="218" rx="20" class="bg"/></g>

<g transform="translate(3937,1272)"><g clip-path="url(#k217)">
<rect width="217" height="216" fill="#4b4c50"/>
<circle cx="40" cy="20" r="30" fill="#3a3b3f"/>
<rect x="51" y="4" width="115" height="31" rx="14" fill="url(#silv)" stroke="#333"/>
<polygon points="41,106 60,100 100,216 71,216" fill="#fff"/>
<path d="M60,40 Q110,30 160,45 Q200,55 217,70 L217,216 L120,216 Q95,180 80,150 Q70,125 85,110 Q65,80 60,40 Z" class="sk"/>
<polygon points="150,120 175,216 200,216 170,110" fill="#333"/>
<ellipse cx="82" cy="111" rx="10" ry="20" fill="#29abe2"/>
</g><rect width="217" height="216" rx="20" class="bg"/></g>
<rect x="4110" y="1245" width="71" height="72" rx="8" class="ib"/>
<circle cx="4146" cy="1281" r="18" fill="none" stroke="#222" stroke-width="4"/>
<line x1="4146" y1="1269" x2="4146" y2="1293" stroke="#222" stroke-width="5"/>

<g transform="translate(4202,1272)"><g clip-path="url(#k217)">
<rect width="217" height="216" fill="#e3e4e7"/>
<path d="M0,0 H170 Q195,40 198,90 Q200,140 180,160 L170,216 H0 Z" fill="#7d7e82"/>
<path d="M0,150 H185 Q200,152 205,145 L210,160 Q195,172 180,170 H0 Z" fill="#55565a"/>
<circle cx="5" cy="70" r="22" fill="#c5c6c9" stroke="#555"/>
<circle cx="118" cy="55" r="6" fill="#333"/>
<path d="M20,72 Q110,62 195,58" stroke="#555" stroke-width="1.5" fill="none"/>
<path d="M92,140 Q96,114 120,112 Q138,114 136,128 Q124,142 92,140 Z" fill="#2a9fd9" stroke="#1a4f6e" stroke-width="1.5"/>
<path d="M55,216 Q85,180 105,150 Q118,130 135,132 Q150,138 145,160 Q138,185 130,216 Z" class="sk"/>
</g><rect width="217" height="216" rx="20" class="bg"/></g>
<rect x="4296" y="1245" width="150" height="72" rx="8" class="ib"/>

<path class="ch" d="M3643,306 L3657,320 L3643,334 M3907,306 L3921,320 L3907,334 M4171,306 L4185,320 L4171,334"/>
<path class="ch" d="M3643,571 L3657,585 L3643,599 M3907,571 L3921,585 L3907,599 M4171,571 L4185,585 L4171,599"/>
<path class="ch" d="M3907,836 L3921,850 L3907,864"/>
<path class="ch" d="M3641,1102 L3655,1116 L3641,1130 M3907,1102 L3921,1116 L3907,1130"/>
<path class="ch" d="M3907,1366 L3921,1380 L3907,1394 M4171,1366 L4185,1380 L4171,1394"/>

<!-- ================= FAR RIGHT ================= -->
<g transform="translate(4528,76)"><g clip-path="url(#k217)">
<rect width="217" height="216" fill="url(#pbg)"/>
<polygon points="0,152 188,152 217,132 217,216 0,216" fill="#c6c8cd"/>
<line x1="188" y1="0" x2="188" y2="152" stroke="#999" stroke-width="1.5"/>
<line x1="188" y1="152" x2="217" y2="132" stroke="#999" stroke-width="1.5"/>
<path d="M0,5 Q20,0 35,12 L30,25 Q15,22 0,20 Z" class="sk"/>
<polygon points="20,12 45,8 62,28 66,55 52,68 32,55" fill="#4e4f53" stroke="#2e2f33"/>
<line x1="50" y1="62" x2="124" y2="180" stroke="#4e4f53" stroke-width="8"/>
<polygon points="100,172 140,180 152,200 120,210 98,192" fill="#4a4b4f" stroke="#2e2f33"/>
<circle cx="118" cy="195" r="5" fill="#29abe2"/>
<line x1="130" y1="176" x2="88" y2="166" class="bs" marker-end="url(#mbs)"/>
<line x1="148" y1="194" x2="186" y2="204" class="bs" marker-end="url(#mbs)"/>
</g><rect width="216" height="216" rx="20" class="bg"/></g>

<g transform="translate(4793,76)"><g clip-path="url(#k217)"><use xlink:href="#bb"/><use xlink:href="#burstO" transform="translate(108,126)"/></g><rect width="216" height="216" rx="20" class="bg"/></g>
<g transform="translate(5058,76)"><g clip-path="url(#k217)"><use xlink:href="#bb"/><use xlink:href="#starB" transform="translate(108,126)"/></g><rect width="216" height="216" rx="20" class="bg"/></g>
<g transform="translate(5322,76)"><g clip-path="url(#k217)"><use xlink:href="#bb"/><use xlink:href="#pillG" transform="translate(108,126)"/></g><rect width="216" height="216" rx="20" class="bg"/></g>
<path class="ch" d="M4762,170 L4776,184 L4762,198 M5026,170 L5040,184 L5026,198 M5290,170 L5304,184 L5290,198"/>

<rect x="4963" y="48" width="73" height="73" rx="8" class="ib"/>
<rect x="4988" y="60" width="22" height="50" rx="2" fill="none" stroke="#222" stroke-width="3"/>
<rect x="4994" y="55" width="10" height="5" fill="#222"/>
<rect x="4991" y="98" width="16" height="9" fill="#bbb"/>
<rect x="5147" y="48" width="72" height="73" rx="8" class="ib"/>
<rect x="5172" y="60" width="22" height="50" rx="2" fill="none" stroke="#222" stroke-width="3"/>
<rect x="5178" y="55" width="10" height="5" fill="#222"/>
<rect x="5175" y="90" width="16" height="17" fill="#bbb"/>
<polygon points="5187,64 5176,86 5183,86 5179,105 5191,81 5184,81" fill="#222"/>
<rect x="5229" y="48" width="72" height="73" rx="8" class="ib"/>
<path d="M5265,84 L5280,99 A22,22 0 0 1 5265,106 Z" fill="#bbb"/>
<circle cx="5265" cy="84" r="22" fill="none" stroke="#222" stroke-width="3"/>
<path d="M5265,68 V84 L5278,96" fill="none" stroke="#222" stroke-width="2.5"/>
<rect x="5314" y="69" width="56" height="16" fill="#222b37"/>
<polygon points="5368,57 5396,77 5368,97" fill="#222b37"/>
<rect x="5411" y="48" width="72" height="73" rx="8" class="ib"/>
<rect x="5436" y="60" width="22" height="50" rx="2" fill="#222b37" stroke="#222" stroke-width="3"/>
<rect x="5442" y="55" width="10" height="5" fill="#222"/>
<rect x="5492" y="48" width="73" height="73" rx="8" class="ib"/>
<polyline points="5510,83 5524,98 5548,71" fill="none" stroke="#222" stroke-width="5"/>

<path d="M4536,484 H5539 V544 H4536 Q4526,544 4526,534 V494 Q4526,484 4536,484 Z" fill="#222b37"/>
<rect x="5367" y="448" width="133" height="133" rx="10" fill="#fff" stroke="#9a9da3" stroke-width="3"/>
<rect x="5415" y="479" width="38" height="80" rx="3" fill="url(#bfill)" stroke="#222b37" stroke-width="4"/>
<rect x="5426" y="471" width="16" height="9" fill="#222b37"/>

<use xlink:href="#thumbcell" transform="translate(4871,665)"/>
<use xlink:href="#thumbcell" transform="translate(5208,665)"/>
<path d="M4869,848 V620 Q4869,597 4892,597 H5522 Q5545,597 5545,620 V1197 Q5545,1220 5522,1220 H4528 Q4505,1220 4505,1197 V871 Q4505,848 4528,848 Z" fill="none" stroke="#8c8f96" stroke-width="4"/>
<path d="M4869,664 H5545 M4505,850 H5545 M4505,1013 H5545 M5207,597 V1220 M4869,848 V1220" fill="none" stroke="#8c8f96" stroke-width="3"/>
<path d="M4600,964 L4614,919 L4690,885 L4724,860 Q4750,858 4755,867 L4772,919 Q4765,945 4752,953 L4717,964 L4628,981 L4607,981 Z" fill="#f7f7f8" stroke="#777" stroke-width="1.5"/>
<path d="M4612,930 L4690,897 L4700,940 L4625,965 Z" fill="#fff" stroke="#777" stroke-width="1.2"/>
<rect x="4726" y="870" width="24" height="14" rx="6" fill="none" stroke="#777" stroke-width="1.2"/>
<path d="M4741,1040 L4800,1020 L4826,1019 Q4840,1025 4841,1040 L4836,1070 L4790,1084 L4741,1084 Z" fill="#f7f7f8" stroke="#777" stroke-width="1.5"/>
<path d="M4614,1157 L4731,1084 L4738,1092 L4620,1166 Z" fill="#f7f7f8" stroke="#777" stroke-width="1.5"/>
<path d="M4531,1140 L4560,1132 L4583,1160 L4575,1188 L4545,1188 Z" fill="#f7f7f8" stroke="#777" stroke-width="1.5"/>
<path d="M4578,1150 L4618,1150 L4620,1170 L4585,1178 Z" fill="#f7f7f8" stroke="#777" stroke-width="1.5"/>

<rect x="4527" y="1296" width="1011" height="193" rx="16" fill="#fff" stroke="#555" stroke-width="2"/>
<path d="M4853,1318 Q4855,1312 4865,1312 H4925 V1348 H4900 L4892,1386 Q4890,1390 4878,1389 L4870,1350 H4858 Z" fill="#8e9095"/>
<path d="M4870,1348 H4900 L4892,1386 Q4890,1390 4878,1389 Z" fill="#2f3034"/>
<rect x="4895" y="1348" width="10" height="12" fill="#c0202a"/>
<rect x="4862" y="1320" width="18" height="14" fill="#555"/>
<rect x="4925" y="1318" width="28" height="24" rx="4" fill="#9a9ca0" stroke="#444"/>
<line x1="4953" y1="1330" x2="4993" y2="1330" stroke="#444" stroke-width="2.5"/>
<rect x="4999" y="1340" width="46" height="16" rx="7" fill="#ee7a22" stroke="#8a4210" stroke-width="1.5"/>
<rect x="5045" y="1344" width="14" height="8" fill="#ee7a22"/>
<line x1="5059" y1="1348" x2="5120" y2="1348" stroke="#777" stroke-width="2.5"/>
<g fill="#8a8c90" stroke="#333" stroke-width="1.2">
<rect x="5145" y="1334" width="14" height="7" rx="2"/><rect x="5149" y="1341" width="6" height="22"/>
<rect x="5163" y="1334" width="14" height="7" rx="2"/><rect x="5167" y="1341" width="6" height="22"/>
<rect x="5181" y="1334" width="14" height="7" rx="2"/><rect x="5185" y="1341" width="6" height="22"/>
<rect x="5223" y="1327" width="13" height="40" rx="4"/><rect x="5240" y="1327" width="13" height="40" rx="4"/><rect x="5257" y="1327" width="13" height="40" rx="4"/>
</g>
</svg>
</body></html>
